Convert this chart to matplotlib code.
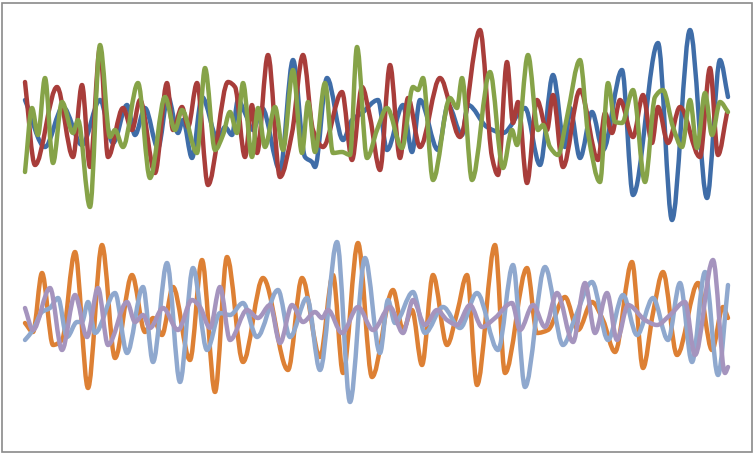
import numpy as np
import matplotlib
matplotlib.use("Agg")
import matplotlib.pyplot as plt
from matplotlib.path import Path
from matplotlib.patches import PathPatch, Rectangle

# values (t = horizontal position, level grows downward)
blue_t = [25, 45, 63, 82, 100, 113, 127, 135, 145, 158, 168, 178, 183, 192, 202, 218, 225, 232, 238, 245,
          253, 262, 280, 293, 305, 312, 315, 327, 343, 352, 362, 378, 387, 403, 412, 420, 438, 448, 462, 468,
          487, 503, 525, 540, 553, 565, 570, 580, 592, 603, 622, 633, 658, 672, 690, 707, 720, 728]
blue_v = [100, 147, 107, 145, 100, 143, 105, 135, 108, 148, 97, 133, 120, 158, 97, 140, 127, 135, 100, 113,
          130, 108, 170, 60, 157, 162, 167, 78, 140, 120, 113, 100, 150, 105, 152, 100, 150, 105, 135, 105,
          127, 133, 108, 165, 75, 147, 108, 158, 112, 150, 70, 195, 43, 220, 30, 198, 60, 97]

red_t = [25, 35, 57, 73, 82, 90, 100, 108, 123, 132, 140, 155, 167, 173, 182, 188, 197, 208, 228, 235,
         245, 252, 257, 268, 280, 292, 303, 313, 323, 342, 352, 362, 370, 380, 390, 400, 408, 420, 440, 460,
         480, 492, 498, 507, 513, 518, 527, 537, 547, 553, 563, 580, 598, 605, 612, 620, 633, 643, 652, 658,
         668, 680, 700, 710, 718, 727]
red_v = [82, 165, 87, 157, 85, 167, 48, 157, 108, 130, 100, 173, 83, 130, 107, 127, 83, 185, 82, 87,
         157, 105, 153, 55, 177, 133, 55, 130, 147, 92, 160, 87, 117, 170, 65, 158, 98, 147, 78, 137,
         30, 157, 175, 62, 123, 102, 183, 100, 130, 95, 167, 90, 160, 113, 133, 100, 137, 95, 143, 107,
         143, 107, 157, 68, 155, 113]

green_t = [25, 32, 38, 45, 53, 62, 73, 78, 90, 100, 110, 115, 123, 138, 150, 165, 175, 182, 197, 205,
           215, 223, 230, 237, 243, 252, 258, 265, 275, 283, 293, 302, 308, 315, 325, 333, 342, 350, 357, 367,
           377, 387, 402, 413, 418, 423, 433, 450, 457, 462, 472, 490, 503, 512, 517, 528, 538, 543, 550, 558,
           567, 580, 588, 600, 608, 615, 622, 633, 645, 655, 663, 673, 682, 690, 697, 705, 712, 720, 728]
green_v = [172, 108, 135, 78, 163, 102, 133, 120, 207, 45, 137, 130, 147, 83, 178, 97, 130, 110, 153, 68,
           150, 135, 112, 133, 83, 157, 108, 147, 107, 150, 70, 153, 102, 152, 83, 153, 152, 155, 47, 158,
           130, 108, 148, 87, 90, 78, 180, 98, 108, 78, 180, 72, 168, 130, 145, 55, 130, 125, 147, 155,
           117, 60, 133, 182, 83, 122, 123, 90, 182, 97, 90, 127, 147, 100, 148, 93, 135, 102, 112]

orange_t = [25, 33, 42, 53, 62, 75, 88, 102, 115, 132, 145, 153, 162, 173, 190, 202, 215, 227, 243, 263,
            288, 302, 320, 333, 343, 358, 372, 393, 403, 412, 422, 433, 447, 457, 467, 477, 495, 505, 527, 537,
            548, 565, 578, 592, 603, 615, 632, 643, 653, 663, 677, 698, 712, 723, 728]
orange_v = [323, 332, 273, 345, 340, 252, 388, 245, 358, 275, 332, 318, 335, 287, 360, 260, 392, 257, 362, 278,
            370, 278, 357, 275, 373, 243, 377, 290, 330, 310, 365, 275, 345, 313, 275, 385, 245, 373, 268, 333,
            330, 297, 330, 302, 320, 352, 262, 368, 313, 272, 355, 283, 350, 307, 318]

lightblue_t = [25, 33, 42, 50, 58, 67, 77, 82, 88, 95, 115, 127, 143, 153, 167, 180, 193, 207, 220, 230,
               243, 257, 278, 290, 307, 320, 337, 350, 365, 380, 388, 395, 413, 425, 443, 460, 477, 498, 513, 525,
               545, 563, 575, 592, 608, 623, 637, 653, 668, 680, 692, 705, 718, 728]
lightblue_v = [340, 330, 312, 308, 298, 337, 322, 322, 302, 333, 293, 353, 287, 362, 263, 382, 268, 350, 313, 315,
               303, 337, 290, 337, 298, 370, 242, 402, 258, 353, 300, 323, 292, 333, 307, 328, 293, 350, 265, 387,
               267, 345, 318, 282, 340, 295, 335, 298, 340, 283, 362, 272, 375, 285]

purple_t = [25, 33, 50, 62, 75, 87, 98, 108, 127, 135, 143, 150, 163, 178, 192, 200, 210, 220, 230, 247,
            258, 270, 280, 292, 303, 315, 322, 328, 342, 358, 373, 390, 403, 413, 425, 437, 447, 457, 470, 482,
            495, 512, 520, 533, 545, 557, 573, 585, 595, 607, 617, 628, 645, 657, 670, 685, 695, 713, 725, 728]
purple_v = [308, 330, 288, 350, 295, 337, 288, 345, 302, 322, 315, 328, 308, 330, 300, 307, 328, 287, 340, 310,
            318, 305, 343, 305, 322, 312, 318, 310, 333, 307, 330, 307, 333, 300, 325, 310, 320, 325, 305, 327,
            318, 303, 330, 305, 327, 293, 342, 283, 333, 293, 340, 305, 320, 325, 315, 302, 355, 260, 373, 367]

series = [
    (blue_t, blue_v, '#3F6DA8'),
    (red_t, red_v, '#A83D3A'),
    (green_t, green_v, '#86A348'),
    (orange_t, orange_v, '#DD8034'),
    (lightblue_t, lightblue_v, '#8FA8CE'),
    (purple_t, purple_v, '#A594BE'),
]


def smooth_path(ts, vs):
    # smoothed line through every point, flat at peaks and dips (no overshoot)
    x = np.asarray(ts, float)
    y = np.asarray(vs, float)
    h = np.diff(x)
    s = np.diff(y) / h
    m = np.zeros_like(y)
    m[0], m[-1] = s[0], s[-1]
    for i in range(1, len(y) - 1):
        if s[i - 1] * s[i] > 0:
            m[i] = 2 * s[i - 1] * s[i] / (s[i - 1] + s[i])
    verts = [(x[0], y[0])]
    codes = [Path.MOVETO]
    for i in range(len(x) - 1):
        d = h[i] / 3
        verts += [(x[i] + d, y[i] + m[i] * d), (x[i + 1] - d, y[i + 1] - m[i + 1] * d), (x[i + 1], y[i + 1])]
        codes += [Path.CURVE4] * 3
    return Path(verts, codes)


fig = plt.figure(figsize=(7.54, 4.54), dpi=100)
ax = fig.add_axes([0, 0, 1, 1])

for ts, vs, col in series:
    ax.add_patch(PathPatch(smooth_path(ts, vs), facecolor='none', edgecolor=col,
                           lw=3.2, capstyle='round', joinstyle='round'))

ax.set_xlim(0, 754)
ax.set_ylim(454, 0)
ax.axis('off')

fig.patches.append(Rectangle((1.5 / 754, 2.5 / 454), 750 / 754, 449 / 454, transform=fig.transFigure,
                             fill=False, edgecolor='#8a8a8a', lw=1.2))

fig.savefig('out.png', dpi=100)
